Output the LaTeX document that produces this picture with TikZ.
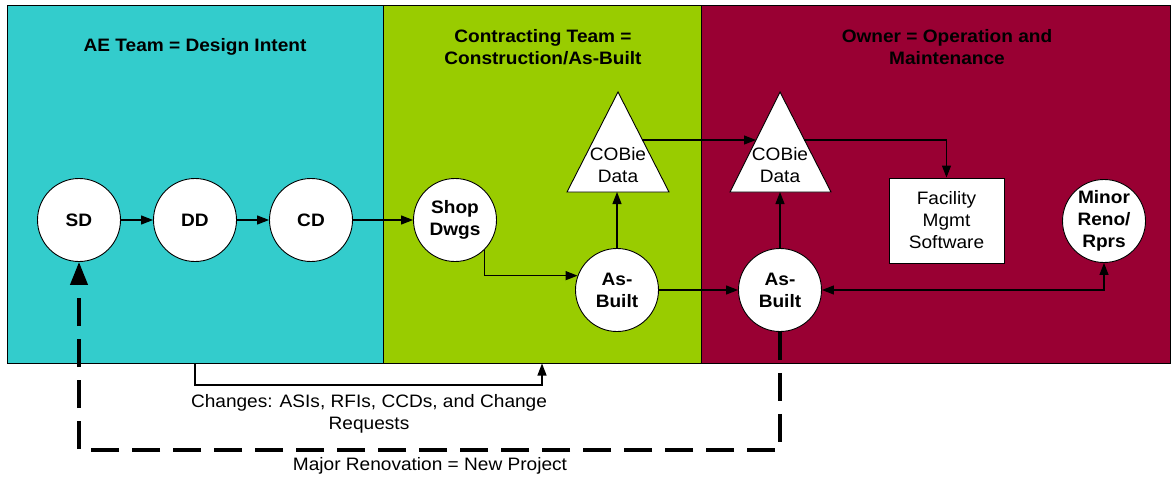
\documentclass[tikz,border=0pt]{standalone}
\usepackage{fontspec}
\setmainfont{Liberation Sans}[FakeStretch=1.06]
\usetikzlibrary{arrows.meta,calc}
\definecolor{aecol}{HTML}{33CCCC}
\definecolor{ctcol}{HTML}{99CC00}
\definecolor{owcol}{HTML}{990033}
\begin{document}
\begin{tikzpicture}[x=1pt,y=-1pt,
  panel/.style={draw=black, line width=1pt, inner sep=0pt, minimum height=358pt},
  ttl/.style={font=\bfseries\fontsize{18}{22}\selectfont, align=center, text=black},
  circ/.style={circle, draw=black, fill=white, line width=0.9pt, minimum size=83pt, inner sep=0pt,
    font=\bfseries\fontsize{18}{22}\selectfont, align=center},
  plain/.style={font=\fontsize{18}{22}\selectfont, align=center},
  tribox/.style={draw=black, fill=white, line width=0.9pt, line join=miter},
  conn/.style={line width=1.2pt, -{Triangle[length=12pt,width=9pt]}},
  dconn/.style={line width=1.2pt, {Triangle[length=12pt,width=9pt]}-{Triangle[length=12pt,width=9pt]}},
  majorline/.style={line width=4pt, dash pattern=on 28pt off 13pt, -{Triangle[length=23pt,width=17pt]}}
]
\useasboundingbox (0,0) rectangle (1172,479);
\fill[white] (0,0) rectangle (1172,479);
% panels
\node[panel, fill=aecol, minimum width=376pt] (ae) at (195,184) {};
\node[panel, fill=ctcol, minimum width=318pt] (ct) at (542,184) {};
\node[panel, fill=owcol, minimum width=469pt] (ow) at (935.5,184) {};
% titles
\node[ttl] (aettl) at (195,47) {AE Team = Design Intent};
\node[ttl] (ctttl) at (543,47) {Contracting Team =\\Construction/As-Built};
\node[ttl] (owttl) at (947,47) {Owner = Operation and\\Maintenance};
% circles
\node[circ] (sd) at (79,220) {SD};
\node[circ] (dd) at (195,220) {DD};
\node[circ] (cd) at (311,220) {CD};
\node[circ] (shop) at (455,220) {Shop\\Dwgs};
\node[circ] (asbg) at (617,290) {As-\\Built};
\node[circ] (asbo) at (780,290) {As-\\Built};
\node[circ] (minor) at (1104,221) {Minor\\Reno/\\Rprs};
\node[draw=black, fill=white, line width=0.9pt, minimum width=115pt, minimum height=85pt, inner sep=0pt,
  font=\fontsize{18}{22}\selectfont, align=center] (fac) at (946.5,220.5) {Facility\\Mgmt\\Software};
% triangles
\coordinate (apg) at (618,92);
\coordinate (blg) at (567,192);
\coordinate (brg) at (669,192);
\coordinate (apo) at (780,92);
\coordinate (blo) at (730,192);
\coordinate (bro) at (831,192);
\draw[tribox] (apg) -- (blg) -- (brg) -- cycle;
\draw[tribox] (apo) -- (blo) -- (bro) -- cycle;
\node[plain] (cobieg) at (618,165.5) {COBie\\Data};
\node[plain] (cobieo) at (780,165.5) {COBie\\Data};
\coordinate (pg) at ($(apg)!0.48!(brg)$);
\coordinate (po) at ($(apo)!0.48!(blo)$);
\coordinate (po2) at ($(apo)!0.48!(bro)$);
% connectors
\draw[conn] (sd.east) -- (dd.west);
\draw[conn] (dd.east) -- (cd.west);
\draw[conn] (cd.east) -- (shop.west);
\draw[conn] (shop.-45) |- (asbg.160);
\draw[conn] (asbg.north) -- (asbg.north |- blg);
\draw[conn] (pg) -- (pg -| po);
\draw[conn] (po2) -| (fac.north);
\draw[conn] (asbg.east) -- (asbo.west);
\draw[conn] (asbo.north) -- (asbo.north |- blo);
\draw[dconn] (asbo.east) -| (minor.south);
% changes
\coordinate (chl) at (195,385);
\draw[conn] (ae.south) -- (chl) -| (ct.south);
\node[plain] (chlabel) at (369,413.5) {Changes: ASIs, RFIs, CCDs, and Change\\Requests};
% major renovation
\coordinate (dr) at (780,450);
\coordinate (dl) at (79,450);
\draw[majorline] (asbo.south) -- (dr) -- (dl) -- (sd.south);
\node[plain] (mjlabel) at (430,466) {Major Renovation = New Project};
\end{tikzpicture}
\end{document}
